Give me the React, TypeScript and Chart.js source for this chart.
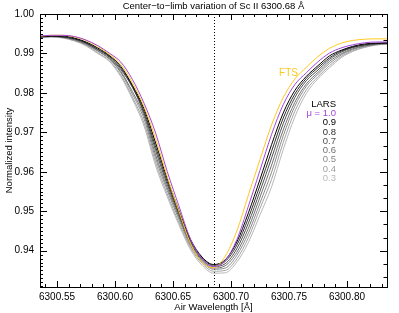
import React, { useEffect, useRef } from "react";
import { Chart, registerables } from "chart.js";

Chart.register(...registerables);

// ---- Data ----
const wavelengths = [
  6300.535, 6300.545, 6300.555, 6300.565, 6300.575, 6300.585, 6300.595, 6300.605,
  6300.615, 6300.625, 6300.635, 6300.645, 6300.655, 6300.665, 6300.675, 6300.685,
  6300.695, 6300.705, 6300.715, 6300.725, 6300.735, 6300.745, 6300.755, 6300.765,
  6300.775, 6300.785, 6300.795, 6300.805, 6300.815, 6300.825, 6300.835,
];

const ftsValues = [
  0.9944, 0.9946, 0.9946, 0.9942, 0.9933, 0.9918, 0.9898, 0.9872, 0.9826, 0.9765, 0.9684,
  0.9588, 0.9501, 0.9419, 0.9371, 0.9357, 0.9386, 0.945, 0.9541, 0.9631, 0.9719, 0.9788,
  0.9835, 0.9865, 0.9892, 0.9913, 0.9926, 0.9933, 0.9936, 0.9937, 0.9937,
];

const larsMu10 = [
  0.9944, 0.9946, 0.9946, 0.9943, 0.9934, 0.992, 0.9901, 0.9878, 0.9834, 0.9774, 0.9698,
  0.9601, 0.9514, 0.943, 0.938, 0.936, 0.9375, 0.9428, 0.9513, 0.9604, 0.9695, 0.977,
  0.9821, 0.9851, 0.9879, 0.9901, 0.9914, 0.9922, 0.9927, 0.9929, 0.9929,
];

const larsMu09 = [
  0.9942, 0.9944, 0.9944, 0.9939, 0.9929, 0.9914, 0.9895, 0.9867, 0.9819, 0.976, 0.9673,
  0.9583, 0.9503, 0.9429, 0.9384, 0.9365, 0.9377, 0.9422, 0.9496, 0.9581, 0.9669, 0.9749,
  0.9806, 0.9842, 0.9869, 0.9894, 0.9908, 0.9918, 0.9924, 0.9926, 0.9927,
];

const larsMu08 = [
  0.9942, 0.9944, 0.9942, 0.9937, 0.9927, 0.9911, 0.9893, 0.9863, 0.9816, 0.9753, 0.9663,
  0.9575, 0.9496, 0.9425, 0.9382, 0.9363, 0.9373, 0.9414, 0.9483, 0.9566, 0.9652, 0.9736,
  0.9797, 0.9837, 0.9864, 0.9889, 0.9906, 0.9916, 0.9922, 0.9925, 0.9926,
];

const larsMu07 = [
  0.9942, 0.9944, 0.9942, 0.9937, 0.9926, 0.991, 0.9891, 0.9859, 0.9814, 0.9748, 0.9654,
  0.9568, 0.9491, 0.9421, 0.9378, 0.936, 0.9367, 0.9405, 0.947, 0.9551, 0.9635, 0.9722,
  0.9788, 0.9831, 0.9858, 0.9885, 0.9903, 0.9915, 0.9921, 0.9925, 0.9926,
];

const larsMu06 = [
  0.9941, 0.9943, 0.9941, 0.9935, 0.9924, 0.9907, 0.9888, 0.9854, 0.9803, 0.9742, 0.9643,
  0.956, 0.9486, 0.9417, 0.9375, 0.9356, 0.9362, 0.9396, 0.9457, 0.9536, 0.9617, 0.9706,
  0.9776, 0.9823, 0.9852, 0.988, 0.9899, 0.9912, 0.9919, 0.9923, 0.9925,
];

const larsMu05 = [
  0.9941, 0.9943, 0.9941, 0.9934, 0.9923, 0.9906, 0.9886, 0.9851, 0.9797, 0.9734, 0.9634,
  0.9553, 0.948, 0.9413, 0.9372, 0.9353, 0.9356, 0.9388, 0.9445, 0.9521, 0.9599, 0.9691,
  0.9766, 0.9817, 0.9847, 0.9875, 0.9896, 0.991, 0.9918, 0.9923, 0.9925,
];

const larsMu04 = [
  0.994, 0.9942, 0.994, 0.9932, 0.9921, 0.9902, 0.9882, 0.9845, 0.9789, 0.9724, 0.9624,
  0.9544, 0.9472, 0.9408, 0.9368, 0.9348, 0.935, 0.9379, 0.9433, 0.9507, 0.9581, 0.9674,
  0.9753, 0.9808, 0.9841, 0.9869, 0.9892, 0.9907, 0.9916, 0.9922, 0.9924,
];

const larsMu03 = [
  0.994, 0.9942, 0.9939, 0.9932, 0.9919, 0.99, 0.988, 0.9841, 0.9784, 0.9716, 0.9615,
  0.9537, 0.9466, 0.9403, 0.9363, 0.9343, 0.9344, 0.9371, 0.9421, 0.9491, 0.9562, 0.9656,
  0.9739, 0.9799, 0.9836, 0.9864, 0.9889, 0.9905, 0.9915, 0.9921, 0.9924,
];

const seriesLabels = ["FTS", "μ = 1.0", "0.9", "0.8", "0.7", "0.6", "0.5", "0.4", "0.3"];
const seriesColors = [
  "#ffc81e", "#a445dc", "#000000", "#2e2e2e", "#4e4e4e", "#707070", "#8a8a8a", "#a2a2a2", "#b8b8b8",
];
const seriesValues = [ftsValues, larsMu10, larsMu09, larsMu08, larsMu07, larsMu06, larsMu05, larsMu04, larsMu03];

const xTickValues = [6300.55, 6300.6, 6300.65, 6300.7, 6300.75, 6300.8];
const yTickValues = [0.94, 0.95, 0.96, 0.97, 0.98, 0.99, 1.0];
const xRange = [6300.5353, 6300.8345];
const yRange = [0.9308, 1.0];
const lineCenter = 6300.685;

const titleText = "Center\u2212to\u2212limb variation of Sc II 6300.68 \u00c5";
const xTitleText = "Air Wavelength [\u00c5]";
const yTitleText = "Normalized intensity";
const legendHeader = "LARS";

const FONT = "'Liberation Sans', Arial, Helvetica, sans-serif";

export default function App() {
  const canvasRef = useRef<HTMLCanvasElement | null>(null);

  useEffect(() => {
    document.body.style.margin = "0";
    const canvas = canvasRef.current;
    if (!canvas) return;

    const datasets = seriesValues.map((vals, i) => ({
      label: seriesLabels[i],
      data: wavelengths.map((x, j) => ({ x, y: vals[j] })),
      borderColor: seriesColors[i],
      backgroundColor: seriesColors[i],
      borderWidth: 1,
      pointRadius: 0,
      fill: false,
      cubicInterpolationMode: "monotone" as const,
      // purple on top, then FTS, then black, greys behind
      order: i === 1 ? 0 : i === 0 ? 1 : i,
    }));

    const decorPlugin = {
      id: "decor",
      beforeDatasetsDraw(chart: any) {
        const { ctx, chartArea } = chart;
        const xs = chart.scales.x;
        const px = Math.round(xs.getPixelForValue(lineCenter)) + 0.5;
        ctx.save();
        ctx.strokeStyle = "#000";
        ctx.lineWidth = 1;
        ctx.setLineDash([1, 2]);
        ctx.beginPath();
        ctx.moveTo(px, chartArea.top);
        ctx.lineTo(px, chartArea.bottom);
        ctx.stroke();
        ctx.restore();
      },
      afterDraw(chart: any) {
        const { ctx, chartArea } = chart;
        const xs = chart.scales.x;
        const ys = chart.scales.y;
        const L = chartArea.left, R = chartArea.right, T = chartArea.top, B = chartArea.bottom;
        ctx.save();
        ctx.strokeStyle = "#000";
        ctx.lineWidth = 1;
        ctx.setLineDash([]);
        // frame
        ctx.strokeRect(Math.round(L) + 0.5, Math.round(T) + 0.5, Math.round(R - L), Math.round(B - T));
        ctx.beginPath();
        // x ticks (bottom & top)
        for (let k = 54; k <= 83; k++) {
          const v = 6300 + k / 100;
          const p = Math.round(xs.getPixelForValue(v)) + 0.5;
          if (p < L || p > R) continue;
          const major = k % 5 === 0;
          const len = major ? 6 : 3;
          ctx.moveTo(p, B);
          ctx.lineTo(p, B - len);
          ctx.moveTo(p, T);
          ctx.lineTo(p, T + len);
        }
        // y ticks left: minor every 0.001
        for (let k = 931; k <= 1000; k++) {
          const v = k / 1000;
          const p = Math.round(ys.getPixelForValue(v)) + 0.5;
          if (p < T || p > B + 1) continue;
          const major = k % 10 === 0;
          const len = major ? 7 : 3;
          ctx.moveTo(L, p);
          ctx.lineTo(L + len, p);
        }
        // y ticks right: every 1/3 of 0.01
        for (let k = 279; k <= 300; k++) {
          const v = k / 300;
          const p = Math.round(ys.getPixelForValue(v)) + 0.5;
          if (p < T || p > B + 1) continue;
          const major = k % 3 === 0;
          const len = major ? 7 : 3.5;
          ctx.moveTo(R, p);
          ctx.lineTo(R - len, p);
        }
        ctx.stroke();

        // titles
        ctx.fillStyle = "#000";
        ctx.font = `9.5px ${FONT}`;
        ctx.textAlign = "center";
        ctx.textBaseline = "middle";
        ctx.fillText(titleText, (L + R) / 2, 6.5);
        ctx.fillText(xTitleText, (L + R) / 2, 307);
        ctx.save();
        ctx.translate(9, (T + B) / 2);
        ctx.rotate(-Math.PI / 2);
        ctx.fillText(yTitleText, 0, 0);
        ctx.restore();

        // FTS label
        ctx.textAlign = "right";
        ctx.fillStyle = seriesColors[0];
        ctx.font = `10px ${FONT}`;
        ctx.fillText(seriesLabels[0], L + 258, T + 59);

        // LARS legend
        const lx = L + 296;
        let ly = T + 90;
        ctx.font = `9.5px ${FONT}`;
        ctx.fillStyle = "#000";
        ctx.fillText(legendHeader, lx, ly);
        for (let i = 1; i < seriesLabels.length; i++) {
          ly += 9.3;
          ctx.fillStyle = seriesColors[i];
          ctx.fillText(seriesLabels[i], lx, ly);
        }
        ctx.restore();
      },
    };

    const chart = new Chart(canvas, {
      type: "line",
      data: { datasets },
      options: {
        animation: false,
        responsive: false,
        devicePixelRatio: 1,
        layout: { padding: { top: 14, right: 12, left: 0, bottom: 0 } },
        plugins: {
          legend: { display: false },
          tooltip: { enabled: false },
          title: { display: false },
        },
        scales: {
          x: {
            type: "linear",
            min: xRange[0],
            max: xRange[1],
            grid: { display: false, drawTicks: false },
            border: { display: false },
            ticks: {
              padding: 4,
              color: "#000",
              font: { size: 10, family: FONT },
              autoSkip: false,
              maxRotation: 0,
              callback: (v: any) => Number(v).toFixed(2),
            },
            afterBuildTicks: (s: any) => {
              s.ticks = xTickValues.map((value) => ({ value }));
            },
            afterFit: (s: any) => {
              s.height = 26;
            },
          },
          y: {
            type: "linear",
            min: yRange[0],
            max: yRange[1],
            grid: { display: false, drawTicks: false },
            border: { display: false },
            ticks: {
              padding: 6,
              color: "#000",
              font: { size: 10, family: FONT },
              autoSkip: false,
              callback: (v: any) => Number(v).toFixed(2),
            },
            afterBuildTicks: (s: any) => {
              s.ticks = yTickValues.map((value) => ({ value }));
            },
            afterFit: (s: any) => {
              s.width = 40;
            },
          },
        },
      },
      plugins: [decorPlugin],
    });

    return () => chart.destroy();
  }, []);

  return (
    <canvas
      ref={canvasRef}
      width={399}
      height={313}
      style={{ display: "block", width: "399px", height: "313px" }}
    />
  );
}
